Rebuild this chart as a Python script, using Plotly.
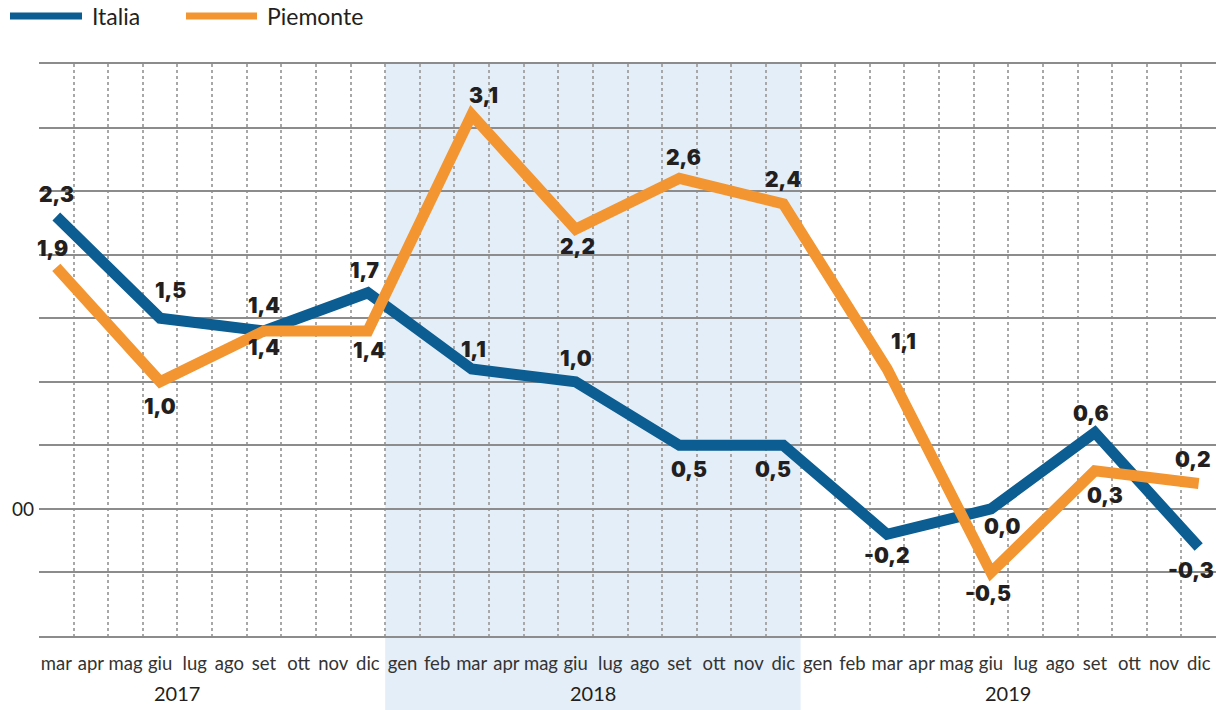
import plotly.graph_objects as go

months = ["mar","apr","mag","giu","lug","ago","set","ott","nov","dic",
          "gen","feb","mar","apr","mag","giu","lug","ago","set","ott","nov","dic",
          "gen","feb","mar","apr","mag","giu","lug","ago","set","ott","nov","dic"]
# indices of quarterly observations within months list
obs_idx = [0, 3, 6, 9, 12, 15, 18, 21, 24, 27, 30, 33]
italia = [2.3, 1.5, 1.4, 1.7, 1.1, 1.0, 0.5, 0.5, -0.2, 0.0, 0.6, -0.3]
piemonte = [1.9, 1.0, 1.4, 1.4, 3.1, 2.2, 2.6, 2.4, 1.1, -0.5, 0.3, 0.2]
# label offsets in pixels (dy > 0 above the point)
italia_dy = [22, 28, -17, 22, 20, 23, -24, -24, -21, -18, 19, -23]
italia_dx = [0, 10, 0, -3, 2, 0, 10, -10, 0, 11, -4, -8]
piemonte_dy = [19, -25, 25, -20, 19, -17, 21, 24, 28, -21, -25, 24]
piemonte_dx = [-4, 0, 0, 1, 12, 2, 4, 0, 16, -3, 10, -6]
years = ["2017", "2018", "2019"]
year_center = [3.5, 15.5, 27.5]
shade_range = [9.5, 21.5]
y_grid = [-1.0, -0.5, 0.0, 0.5, 1.0, 1.5, 2.0, 2.5, 3.0, 3.5]
y_ticktext = ["", "", "00", "", "", "", "", "", "", ""]

BLUE = "#0b5d92"
ORANGE = "#f39530"
TXT = "#231f20"

W, H = 1220, 710
ML, MR, MT, MB = 39, 4, 64, 74
PW, PH = W - ML - MR, H - MT - MB


def fmt(v):
    return f"{v:.1f}".replace(".", ",")


fig = go.Figure()
for name, vals, col in [("Italia", italia, BLUE), ("Piemonte", piemonte, ORANGE)]:
    fig.add_trace(go.Scatter(
        x=obs_idx, y=vals, name=name, mode="lines",
        line=dict(color=col, width=11),
        hoverinfo="skip", showlegend=False))

label_font = dict(family="Inter", size=21, color=TXT, weight=900)
for vals, dys, dxs in [(italia, italia_dy, italia_dx), (piemonte, piemonte_dy, piemonte_dx)]:
    for xi, v, dy, dx in zip(obs_idx, vals, dys, dxs):
        fig.add_annotation(x=xi, y=v, xref="x", yref="y", text=fmt(v), showarrow=False,
                           xshift=dx, yshift=dy, font=label_font,
                           xanchor="center", yanchor="middle")

# shaded 2018 band
fig.add_shape(type="rect", xref="x", yref="paper", x0=shade_range[0], x1=shade_range[1],
              y0=-(MB + 5) / PH, y1=1.0, fillcolor="#e3eef8", line_width=0, layer="below")

# year labels
for yr, xc in zip(years, year_center):
    fig.add_annotation(x=xc, y=-57 / PH, xref="x", yref="paper", text=yr, showarrow=False,
                       font=dict(family="Lato", size=20, color=TXT), yanchor="middle")

# custom legend
leg_y = (PH + MT - 16) / PH
leg = [("Italia", BLUE, 10, 82, 90), ("Piemonte", ORANGE, 186, 257, 265)]
for name, col, x0, x1, xt in leg:
    fig.add_shape(type="line", xref="paper", yref="paper",
                  x0=(x0 - ML) / PW, x1=(x1 - ML) / PW,
                  y0=leg_y, y1=leg_y, line=dict(color=col, width=7))
    fig.add_annotation(x=(xt - ML) / PW, y=leg_y, xref="paper", yref="paper",
                       text=name, showarrow=False, xanchor="left", yanchor="middle",
                       font=dict(family="Lato", size=23, color=TXT))

fig.update_layout(
    width=W, height=H,
    margin=dict(l=ML, r=MR, t=MT, b=MB, autoexpand=False),
    paper_bgcolor="white", plot_bgcolor="rgba(0,0,0,0)",
    showlegend=False,
    xaxis=dict(range=[-0.5, 33.5], tickvals=list(range(len(months))), ticktext=months,
               showgrid=False, zeroline=False, showline=True, mirror=True,
               linecolor="#8c8c8c", linewidth=2, ticks="", ticklabelstandoff=10,
               tickfont=dict(family="Lato", size=18.5, color="#333333"),
               minor=dict(tickvals=[k - 0.5 for k in range(len(months) + 1)],
                          showgrid=True, gridcolor="#a8a8a8", griddash="dot", gridwidth=1.5)),
    yaxis=dict(range=[-1.0, 3.5], tickvals=y_grid, ticktext=y_ticktext,
               showgrid=True, gridcolor="#8c8c8c", gridwidth=2, zeroline=False,
               ticks="", ticklabelstandoff=4,
               tickfont=dict(family="Lato", size=19, color=TXT)),
)

fig.write_html("out.html", config={"displayModeBar": False},
               post_script="document.body.style.margin='0';document.body.style.overflow='hidden';")
